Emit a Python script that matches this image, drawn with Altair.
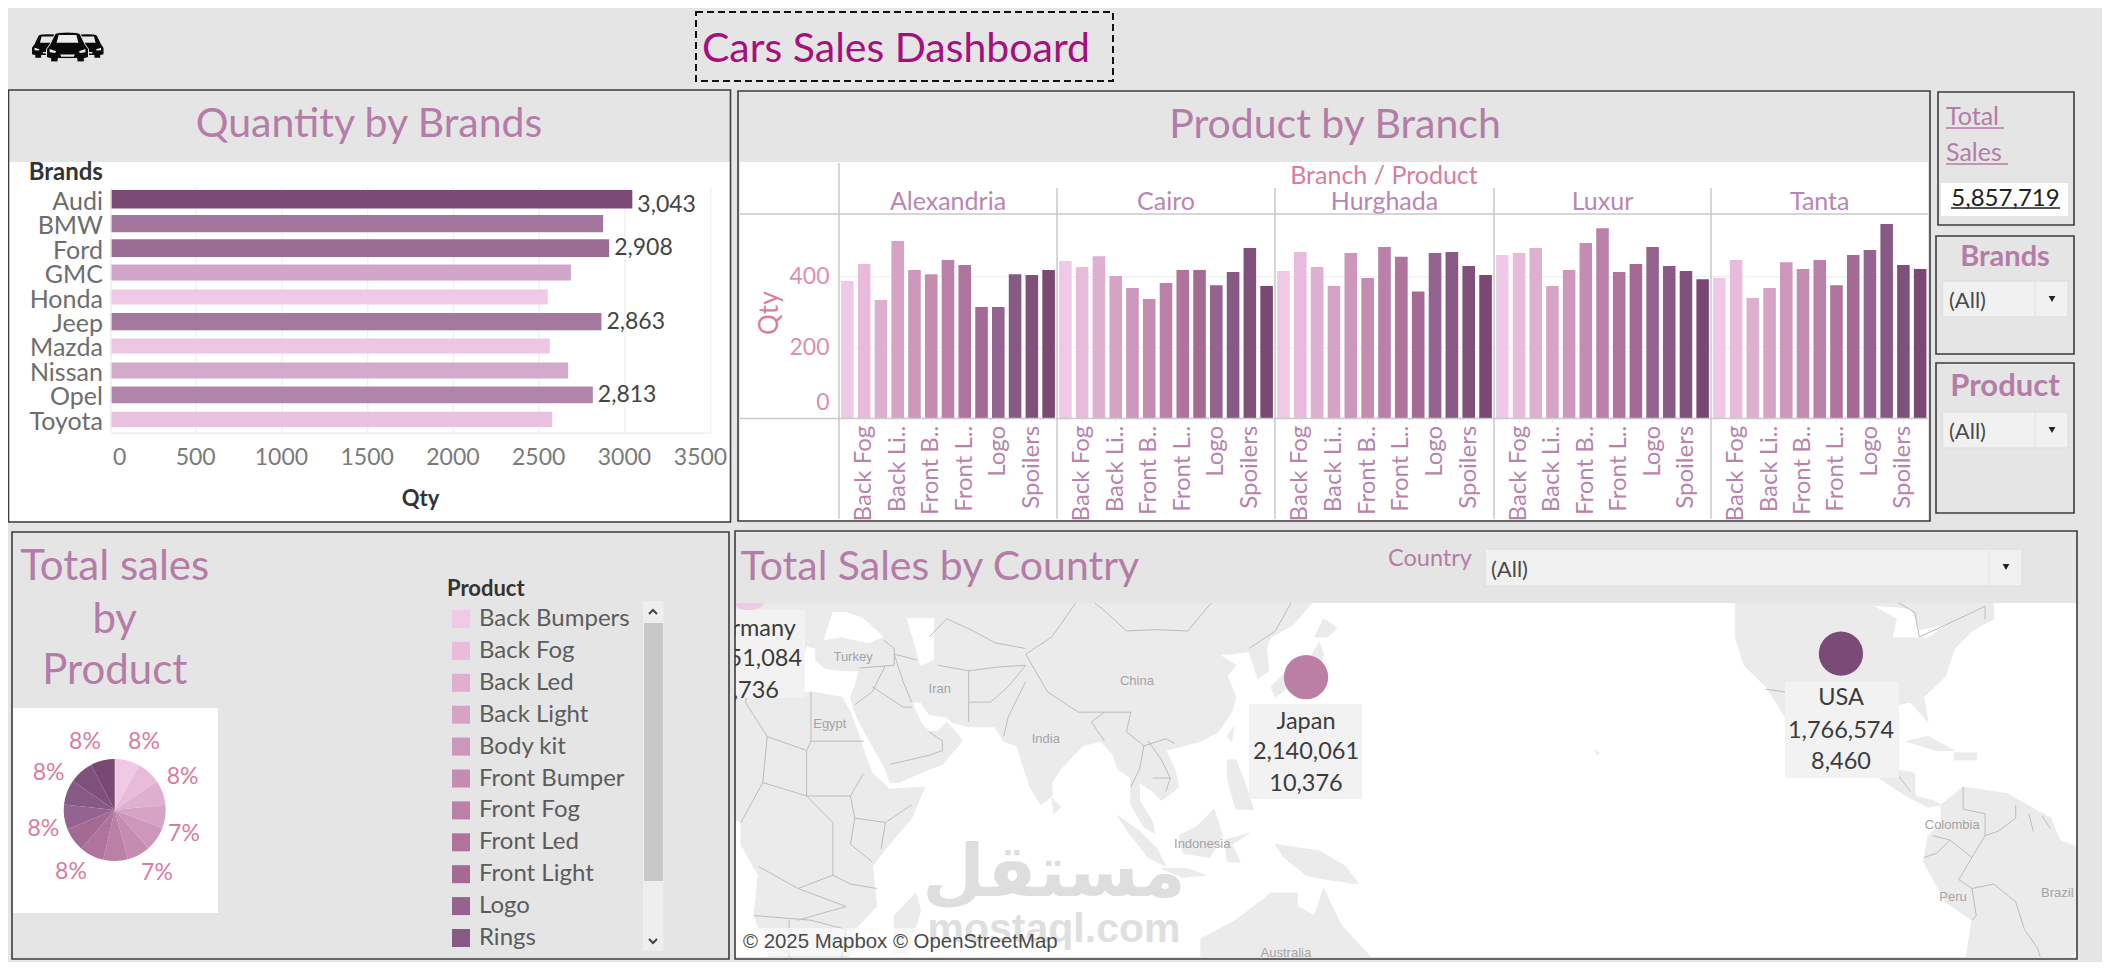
import altair as alt
import pandas as pd

W, H = 2094, 954
FONT = "Lato"
TITLE = "#b57ca8"
ROSE = "#d97c9e"
GREY = "#e5e5e5"

# ---- data -----------------------------------------------------------------
brands = ["Audi", "BMW", "Ford", "GMC", "Honda", "Jeep", "Mazda", "Nissan", "Opel", "Toyota"]
brand_qty = [3043, 2873, 2908, 2685, 2550, 2863, 2562, 2669, 2813, 2576]
brand_labels = ["3,043", "", "2,908", "", "", "2,863", "", "", "2,813", ""]
brand_ticks = [0, 500, 1000, 1500, 2000, 2500, 3000, 3500]

products = ["Back Bumpers", "Back Fog", "Back Led", "Back Light", "Body kit", "Front Bumper",
            "Front Fog", "Front Led", "Front Light", "Logo", "Rings", "Spoilers", "Wheels"]
palette = ["#efc9e6", "#e8bbda", "#dfafcf", "#d6a3c5", "#cc97ba", "#c48cb0", "#ba80a7",
           "#af739c", "#a46a94", "#94638f", "#875a85", "#7f5079", "#7a4872"]
shown_products = ["Back Fog", "Back Light", "Front Bumper", "Front Led", "Logo", "Spoilers"]

branches = ["Alexandria", "Cairo", "Hurghada", "Luxur", "Tanta"]
alexandria = [388, 436, 334, 501, 419, 407, 447, 433, 314, 314, 407, 405, 419]
cairo = [444, 427, 458, 402, 368, 337, 382, 419, 419, 376, 413, 481, 374]
hurghada = [416, 470, 427, 374, 467, 396, 484, 456, 358, 467, 470, 430, 405]
luxur = [461, 467, 481, 374, 419, 495, 537, 413, 436, 484, 430, 416, 393]
tanta = [396, 447, 340, 368, 441, 422, 447, 376, 461, 475, 549, 433, 422]
branch_values = [alexandria, cairo, hurghada, luxur, tanta]
branch_edges = [839, 1057, 1275, 1494, 1711, 1928.5]

pie_values = [7.9, 7.6, 7.8, 7.4, 7.7, 7.3, 7.8, 7.7, 7.5, 7.9, 7.9, 7.6, 7.7]
pie_text = [(144, 742, "8%"), (182.6, 777, "8%"), (184, 834, "7%"), (157, 873, "7%"),
            (71, 872, "8%"), (43.4, 829, "8%"), (48.6, 773, "8%"), (85, 742, "8%")]

countries = ["Germany", "Japan", "USA"]
country_lon = [10.8, 138.0, -99.9]
country_lat = [49.7, 34.8, 39.1]
country_colors = ["#efc9e6", "#bb7fa6", "#7b4a76"]

# rough coastlines (lon, lat)
land_rings = [
    [(5,60),(60,70),(100,72),(140,72),(180,68),(190,65),(178,62),(163,60),(162,56),(157,51),(156,57),(155,59),(142,59),(135,54),(141,53),(140,48),(135,44),(130,42),(129,40),(129.5,36),(127,34.5),(126,37),(125,39.5),(121,39),(118,39),(122,37),(120,35),(122,31),(121,28),(118,24),(114,22),(110,21),(106,20),(108,16),(109,12),(105,9),(103,11),(100,13),(100,9),(103,4),(103.5,1.5),(101,3),(98,8),(98,14),(95,16),(94,19),(91,22),(87,21),(82,16),(80,13),(80,10),(77.5,8),(75,12),(73,18),(72,21),(69,22),(67,25),(61,25),(57,26),(56,27),(52,27.5),(50,30),(48,30),(50,26),(52,24),(54,24),(56,26),(58.5,23.5),(59.5,22),(55,17),(52,16),(45,13),(43,13),(42,16),(39,21),(36,26),(35,28),(34,31),(35,33),(36,36),(32,36),(28,36.5),(26,38),(26,40),(24,40.5),(23,38),(22,36.5),(20,39),(19,42),(14,45),(12.5,44),(16,41),(18,40),(16,38),(15.5,40),(10,44),(6,43),(3,42),(0,39),(-2,37),(-5,36),(-9,37),(-9,43),(-1,44),(-2,48),(3,51),(8,54),(8,57)],
    [(-6,35.5),(10,37),(11,33),(20,31),(25,32),(32,31),(34,28),(36,23),(37,20),(39,15),(43,11.5),(51,12),(48,5),(42,-2),(39,-6),(40,-15),(35,-20),(35,-24),(32,-28),(28,-33),(20,-35),(18,-32),(14,-22),(12,-17),(13,-8),(9,-1),(9,4),(5,6),(-4,5),(-8,4.5),(-13,8),(-17,14),(-16,20),(-13,27),(-10,31)],
    [(49,-12),(50,-16),(47,-25),(44,-25),(44,-17)],
    [(80,9.5),(82,7.5),(80.5,6)],
    [(130,33),(133,35.5),(137,37),(139,38.5),(141,41),(142,39),(141,36),(137,34.5),(135,33.5),(131,31)],
    [(140,42),(142,45),(145,43.5),(143,42)],
    [(120,23),(121.5,25),(121,22)],
    [(95,5.5),(100,2),(104,-2),(106,-6),(102,-4),(98,1)],
    [(105,-6.5),(111,-6.5),(115,-8),(110,-8.5)],
    [(109,1),(113,3),(117,7),(119,1),(116,-4),(110,-3)],
    [(119.5,0),(125,1.5),(121,-1),(123,-5),(120,-5)],
    [(120,18),(122,18),(124,13),(126,7),(122,7),(120,14)],
    [(131,-1),(141,-2.5),(147,-6),(150,-10),(143,-9),(138,-8),(133,-4)],
    [(114,-22),(122,-18),(130,-12),(136,-12),(136,-15),(140,-17),(142,-11),(146,-19),(153,-26),(153,-33),(150,-38),(143,-39),(138,-35),(132,-32),(124,-33),(116,-35),(114,-30)],
    [(204,20),(205,19.5),(204.5,19)],
    [(-168,66),(-156,71),(-125,70),(-95,72),(-80,73),(-62,66),(-60,55),(-55,52),(-65,50),(-65,45),(-70,43),(-74,40),(-76,35),(-81,31),(-80,26),(-82,28),(-84,30),(-90,29),(-97,27),(-97.5,22),(-95,18.5),(-91,19),(-90,21),(-87,21),(-88,16),(-83,15),(-83,10),(-79,9),(-77,8),(-80,7.5),(-85,10),(-92,14.5),(-97,16),(-105,20),(-109,25),(-113,31),(-110,23),(-114,29),(-117,33),(-122,37),(-124,42),(-124,48),(-130,54),(-140,60),(-150,60),(-165,55),(-160,60),(-165,63)],
    [(-85,22),(-80,23),(-74,20),(-78,20)],
    [(-74,19.5),(-69,19.5),(-69,18),(-74,18)],
    [(-77,8),(-72,12),(-62,10.5),(-52,5),(-50,0),(-44,-2.5),(-35,-6),(-39,-15),(-41,-22),(-48,-26),(-54,-34),(-62,-39),(-66,-46),(-69,-52),(-73,-50),(-72,-30),(-70,-18),(-76,-14),(-81,-5),(-80,1),(-77,4)],
]
water_rings = [
    [(28,41.5),(32,42),(38,41),(41.5,42),(37,45),(33,46),(30,46)],
    [(47,45),(53,45),(53,38),(50,37),(49,40)],
    [(-92,47),(-84,46.5),(-82,43),(-79,43.5),(-76,44),(-80,42),(-84,42),(-88,42),(-87,45)],
]
border_lines = [
    [(74,39),(80,42),(87,49),(97,43),(111,43),(120,50),(125,53),(135,48),(131,43),(125,40)],
    [(74,39),(79,32),(86,28),(92,28),(98,28),(97,24),(101,21),(106,22.5),(108,21.5)],
    [(74,34),(70,27),(69,23)], [(92,28),(89,26),(92,22)],
    [(44,39),(46,34),(48,30)], [(61,36),(61,26)], [(44,39),(49,38)], [(54,37),(61,36)],
    [(36,36.5),(44,37),(44,40),(41.5,41.5)],
    [(39,33),(46,29),(48,29)], [(35,29.5),(39,32),(42,37)], [(43,17),(52,19),(55,20),(55,22),(52,24)],
    [(61,30),(66,30),(70,33),(74,37),(61,36)],
    [(52,42),(56,45),(67,41),(74,40)], [(50,50),(60,51),(75,54),(87,49)], [(87,49),(100,52),(116,50)],
    [(101,21),(100,16),(98,12)], [(102,22),(105,18),(107,14),(106,11)], [(103,14),(107,14)],
    [(25,32),(25,22),(37,22)], [(25,22),(24,20),(15,23),(10,30),(11,33)],
    [(24,20),(24,10),(34,10),(37,15)], [(15,23),(14,13),(24,10)],
    [(34,10),(35,5),(42,4),(48,8)], [(35,5),(34,-1),(39,-5)], [(42,4),(41,-2)],
    [(24,10),(30,4),(30,-8),(22,-11),(13,-6)], [(30,-8),(34,-10),(40,-11)], [(22,-18),(33,-15),(22,-11)],
    [(12,-17),(25,-18),(33,-20),(32,-26)], [(20,-18),(20,-28),(17,-29)], [(9,4),(14,13)],
    [(-124,49),(-95,49),(-88,48),(-83,46),(-82,42),(-76,44),(-70,46),(-67,47),(-67,45)],
    [(-117,32.5),(-108,31.5),(-106,31.5),(-101,29.5),(-97,26)],
    [(-92,14.5),(-91,18),(-88,18)], [(-88,16),(-84,11)],
    [(-72,12),(-72,7),(-67,6),(-67,1),(-70,-4),(-75,0),(-79,1)], [(-60,8),(-60,5),(-64,2),(-67,1)],
    [(-57,6),(-56,2)], [(-54,5.5),(-52,2.5)], [(-70,-4),(-73,-9),(-70,-11),(-69,-17),(-70,-18)],
    [(-75,0),(-78,-3),(-81,-4)], [(-70,-11),(-65,-10),(-60,-14),(-58,-20),(-55,-24),(-54,-27)],
]
map_names = [("Turkey",34.6,38.5),("Iran",54.4,32.5),("Egypt",29.3,25.5),("China",99.4,34),("India",78.6,22.5),
             ("Indonesia",114.3,-1),("Australia",133.4,-25),("Colombia",-74.5,3.4),("Peru",-74.3,-13),("Brazil",-50.5,-12)]

# ---- page-space scales (values are page pixels) ---------------------------
SX = alt.Scale(domain=[8, 8 + W], range=[0, W], nice=False, zero=False)
SY = alt.Scale(domain=[8, 8 + H], range=[0, H], nice=False, zero=False)
PROJ = dict(type="mercator", scale=251, rotate=[-150, 0, 0], translate=[1350.6, 832])


def rects(boxes, **mark):
    df = pd.DataFrame(boxes, columns=["x0", "y0", "x1", "y1"])
    return alt.Chart(df).mark_rect(**mark).encode(
        x=alt.X("x0:Q", scale=SX, axis=None), x2="x1:Q",
        y=alt.Y("y0:Q", scale=SY, axis=None), y2="y1:Q")


def rules(lines, color="#c9c9c9", width=1.5, **mark):
    df = pd.DataFrame(lines, columns=["x0", "y0", "x1", "y1"])
    return alt.Chart(df).mark_rule(color=color, strokeWidth=width, **mark).encode(
        x=alt.X("x0:Q", scale=SX, axis=None), x2="x1:Q",
        y=alt.Y("y0:Q", scale=SY, axis=None), y2="y1:Q")


def texts(items, size=23, color="#555555", align="center", weight="normal", font=FONT, **mark):
    df = pd.DataFrame(items, columns=["x", "y", "t"])
    return alt.Chart(df).mark_text(fontSize=size, color=color, align=align, fontWeight=weight,
                                   font=font, baseline="middle", **mark).encode(
        x=alt.X("x:Q", scale=SX, axis=None), y=alt.Y("y:Q", scale=SY, axis=None), text="t:N")


def points(items, **mark):
    df = pd.DataFrame(items, columns=["x", "y"])
    return alt.Chart(df).mark_point(**mark).encode(
        x=alt.X("x:Q", scale=SX, axis=None), y=alt.Y("y:Q", scale=SY, axis=None))


def geo(rings, line=False):
    feats = []
    for r in rings:
        r = list(r)
        if line:
            feats.append({"type": "Feature", "properties": {},
                          "geometry": {"type": "LineString", "coordinates": [list(p) for p in r]}})
            continue
        area = sum(a[0] * b[1] - b[0] * a[1] for a, b in zip(r, r[1:] + r[:1]))
        if area > 0:
            r = r[::-1]
        r = r + [r[0]]
        feats.append({"type": "Feature", "properties": {},
                      "geometry": {"type": "Polygon", "coordinates": [[list(p) for p in r]]}})
    return alt.Data(values=feats)


layers = []

# ---- map (everything outside its window is painted over afterwards) -------
layers.append(rects([(735, 603, 2077, 959)], color="#ffffff"))
layers.append(alt.Chart(geo(land_rings)).mark_geoshape(fill="#ebebeb", stroke="#ebebeb").project(**PROJ))
layers.append(alt.Chart(geo(water_rings)).mark_geoshape(fill="#ffffff", stroke="#ffffff").project(**PROJ))
layers.append(alt.Chart(geo(border_lines, True)).mark_geoshape(filled=False, stroke="#bcbcbc", strokeWidth=1).project(**PROJ))
names_df = pd.DataFrame(map_names, columns=["n", "lon", "lat"])
layers.append(alt.Chart(names_df).mark_text(fontSize=13, color="#a4a4a4", font="Liberation Sans").encode(
    longitude="lon:Q", latitude="lat:Q", text="n:N").project(**PROJ))
country_df = pd.DataFrame({"c": countries, "lon": country_lon, "lat": country_lat})
layers.append(alt.Chart(country_df).mark_circle(size=1963, opacity=1).encode(
    longitude="lon:Q", latitude="lat:Q",
    color=alt.Color("c:N", scale=alt.Scale(domain=countries, range=country_colors), legend=None)).project(**PROJ))
layers.append(rects([(692, 610, 805, 698), (1249, 704, 1362, 799), (1785, 682, 1899, 778)], color="#f2f2f2"))
layers.append(texts([(749, 629, "Germany"), (749, 659, "1,951,084"), (749, 691, "8,736"),
                     (1306, 722, "Japan"), (1306, 752, "2,140,061"), (1306, 784, "10,376"),
                     (1841, 698, "USA"), (1841, 731, "1,766,574"), (1841, 762, "8,460")],
                    size=23.5, color="#3c3c3c"))
# copyright strip, watermark, copyright text
layers.append(rects([(741, 928, 1060, 956)], color="#ffffff", opacity=0.6))
layers.append(texts([(1054, 874, "مستقل")], size=72, color="#d6d6d6", weight="bold", font="DejaVu Sans", opacity=0.8))
layers.append(texts([(1054, 930, "mostaql.com")], size=41, color="#dadada", weight="bold", font="Liberation Sans", opacity=0.85))
layers.append(texts([(743, 941.5, "© 2025 Mapbox © OpenStreetMap")], size=20.4, color="#4a4a4a", align="left", font="Liberation Sans"))

# ---- grey surround ---------------------------------------------------------
layers.append(rects([(8, 8, 735, 962), (8, 8, 2102, 603), (2077, 8, 2102, 962), (8, 957, 2102, 962)], color=GREY))

# ---- header ----------------------------------------------------------------
CAR = ("M-1,0.1 L-0.85,-0.1 L-0.6,-0.62 Q-0.5,-0.71 0,-0.71 Q0.5,-0.71 0.6,-0.62 L0.85,-0.1 L1,0.1 L1,0.5 "
       "L0.8,0.55 L0.8,0.71 L0.45,0.71 L0.45,0.55 L-0.45,0.55 L-0.45,0.71 L-0.8,0.71 L-0.8,0.55 L-1,0.5 Z")
CAR_WHITE = ("M-0.52,-0.2 L-0.42,-0.57 L0.42,-0.57 L0.52,-0.2 Z "
             "M-0.85,0.1 L-0.55,0.2 L-0.58,0.28 L-0.85,0.25 Z M0.85,0.1 L0.55,0.2 L0.58,0.28 L0.85,0.25 Z "
             "M-0.35,0.36 L0.35,0.36 L0.3,0.46 L-0.3,0.46 Z")
side_cars = [(48.5, 46), (87, 46)]
middle_car = [(67.5, 47)]
layers.append(points(side_cars, shape=CAR, size=1089, filled=True, color="#0a0a0a", opacity=1))
layers.append(points(side_cars, shape=CAR_WHITE, size=1089, filled=True, color="#e9e9e9", opacity=1))
layers.append(points(middle_car, shape=CAR, size=1764, filled=True, fill="#0a0a0a", stroke="#e5e5e5", strokeWidth=1, opacity=1))
layers.append(points(middle_car, shape=CAR_WHITE, size=1764, filled=True, color="#ececec", opacity=1))
layers.append(rects([(696, 12, 1113, 81)], fillOpacity=0, stroke="#111111", strokeWidth=2, strokeDash=[7, 4]))
layers.append(texts([(896, 50, "Cars Sales Dashboard")], size=41, color="#a50f7e"))

# ---- panel backgrounds -----------------------------------------------------
layers.append(rects([(8, 162, 730, 521), (740, 162, 1928, 520), (13, 708, 218, 913), (1941, 183, 2068, 216)], color="#ffffff"))

# ---- quantity by brands ----------------------------------------------------
bx = alt.Scale(domain=[0, 3500], range=[102.4, 702.7], nice=False, zero=True)
by = alt.Scale(domain=brands, range=[179, 423.6], paddingInner=0.2, paddingOuter=0.1)
layers.append(texts([(369, 125, "Quantity by Brands")], size=41, color=TITLE))
grid_df = pd.DataFrame({"v": brand_ticks[1:], "a": [187] * 7, "b": [433] * 7})
layers.append(alt.Chart(grid_df).mark_rule(color="#f1f1f1", strokeWidth=1.5).encode(
    x=alt.X("v:Q", scale=bx, axis=None),
    y=alt.Y("a:Q", scale=SY, axis=None), y2="b:Q"))
brand_df = pd.DataFrame({"brand": brands, "qty": brand_qty, "lab": brand_labels})
layers.append(alt.Chart(brand_df).mark_bar().encode(
    x=alt.X("qty:Q", scale=bx, axis=alt.Axis(
        orient="bottom", offset=424.7 - H, values=brand_ticks, grid=False, ticks=False,
        domainColor="#eeeeee", domainWidth=1.5, labelFont=FONT, labelFontSize=23, labelColor="#7a7a7a", labelPadding=14,
        labelOffset={"expr": "datum.value == 0 ? 2 : datum.value == 3500 ? 16 : -1"},
        labelOverlap=False, format="d", zindex=1,
        title="Qty", titleX=412, titleY=66, titleFont=FONT, titleFontSize=22, titleFontWeight="bold",
        titleColor="#333333", titleBaseline="middle")),
    y=alt.Y("brand:N", scale=by, sort=None, axis=alt.Axis(
        orient="left", offset=-102.4, grid=False, ticks=False, domainColor="#eeeeee", domainWidth=1.5,
        labelFont=FONT, labelFontSize=25, labelColor="#6d6d6d", labelPadding=8, labelOverlap=False, zindex=1,
        labelOffset=2.5,
        title="Brands", titleAngle=0, titleX=-8, titleY=164, titleAlign="right", titleBaseline="middle",
        titleFont=FONT, titleFontSize=24, titleFontWeight="bold", titleColor="#333333")),
    color=alt.Color("qty:Q", scale=alt.Scale(domain=[2550, 3043], range=["#efc9e6", "#7b4a76"], interpolate="rgb"), legend=None),
    size=alt.Size("qty:Q", scale=alt.Scale(domain=[2550, 3043], range=[15, 18.6], zero=False), legend=None)))
for sub, dy in ((brand_df[brand_df.brand == "Audi"], 6), (brand_df[(brand_df.lab != "") & (brand_df.brand != "Audi")], 0)):
    layers.append(alt.Chart(sub).mark_text(align="left", dx=5, dy=dy, fontSize=23, font=FONT, color="#444444").encode(
        x=alt.X("qty:Q", scale=bx, axis=None), y=alt.Y("brand:N", scale=by, axis=None), text="lab:N"))

# ---- product by branch -----------------------------------------------------
qy = alt.Scale(domain=[0, 577], range=[410.3, 206], nice=False, zero=True)
layers.append(texts([(1335, 126, "Product by Branch")], size=41, color=TITLE))
layers.append(texts([(1384, 176, "Branch / Product")], size=25, color=ROSE))
edge_mid = [(a + b) / 2 for a, b in zip(branch_edges, branch_edges[1:])]
layers.append(texts([(m, 202, b) for m, b in zip(edge_mid, branches)], size=25, color="#b886b4"))
layers.append(alt.Chart(pd.DataFrame({"v": [200, 400], "a": [840, 840], "b": [1928, 1928]})).mark_rule(color="#f1f1f1", strokeWidth=1.5).encode(
    y=alt.Y("v:Q", scale=qy, axis=None), x=alt.X("a:Q", scale=SX, axis=None), x2="b:Q"))
short = "{'Back Light':'Back Li..','Front Bumper':'Front B..','Front Led':'Front L..'}"
for i, (name, vals) in enumerate(zip(branches, branch_values)):
    df = pd.DataFrame({"p": products, "qty": vals})
    xs = alt.Scale(domain=products, range=[branch_edges[i] - 8, branch_edges[i + 1] - 8], paddingInner=0.25, paddingOuter=0.125)
    y_axis = alt.Axis(orient="left", offset=-831, values=[0, 200, 400], grid=False, ticks=False, domain=False,
                      labelFont=FONT, labelFontSize=23, labelColor="#dd8fae", labelPadding=10, labelOverlap=False, zindex=1,
                      labelOffset={"expr": "datum.value == 0 ? -16 : 0"},
                      title="Qty", titleX=-70, titleY=304.7, titleFont=FONT, titleFontSize=26, titleFontWeight="normal",
                      titleColor=ROSE, titleBaseline="middle") if i == 0 else None
    layers.append(alt.Chart(df).mark_bar().encode(
        x=alt.X("p:N", scale=xs, sort=None, axis=alt.Axis(
            orient="bottom", offset=410.3 - H, values=shown_products, grid=False, domain=False,
            tickColor="#e8e8e8", tickSize=4, labelFont=FONT, labelFontSize=24, labelColor="#b883ab", labelAngle=270,
            labelAlign="right", labelBaseline="middle", labelPadding=3, labelOverlap=False, zindex=1, title=None,
            labelExpr="(" + short + ")[datum.value] || datum.value")),
        y=alt.Y("qty:Q", scale=qy, axis=y_axis),
        color=alt.Color("p:N", scale=alt.Scale(domain=products, range=palette), legend=None)))
layers.append(rules([(740, 214, 1928, 214), (740, 418.5, 1928, 418.5), (839, 163, 839, 519)] +
                    [(e, 188, e, 519) for e in branch_edges[1:-1]]))

# ---- pie -------------------------------------------------------------------
layers.append(texts([(114.7, 567, "Total sales"), (114.7, 620, "by"), (114.7, 671, "Product")], size=42, color=TITLE))
pie_df = pd.DataFrame({"Product": products, "v": pie_values, "i": list(range(13))})
layers.append(alt.Chart(pie_df).mark_arc(outerRadius=51).encode(
    x=alt.value(114.7 - 8), y=alt.value(810 - 8),
    theta=alt.Theta("v:Q", stack=True),
    order=alt.Order("i:Q"),
    color=alt.Color("Product:N", scale=alt.Scale(domain=products, range=palette), legend=alt.Legend(
        orient="none", legendX=439, legendY=571, title="Product", values=products[:11], symbolType="square",
        symbolSize=324, symbolStrokeWidth=0, symbolOffset=2, labelOffset=6, rowPadding=7.9, labelFont=FONT,
        labelFontSize=24, labelColor="#5c5c5c", labelLimit=240, titleFont=FONT, titleFontSize=22,
        titleFontWeight="bold", titleColor="#333333", titlePadding=6, zindex=1))))
layers.append(texts(pie_text, size=23, color=ROSE))
# legend scroll bar
layers.append(rects([(643, 601, 663.5, 951)], color="#eeeeee"))
layers.append(rects([(644, 623, 663, 881)], color="#c8c8c8"))
layers.append(points([(653, 612)], shape="M-1,0.5 L0,-0.5 L1,0.5", size=64, filled=False, stroke="#444444", strokeWidth=2, opacity=1))
layers.append(points([(653, 941)], shape="M-1,-0.5 L0,0.5 L1,-0.5", size=64, filled=False, stroke="#444444", strokeWidth=2, opacity=1))

# ---- country header --------------------------------------------------------
layers.append(texts([(740.5, 568, "Total Sales by Country")], size=41, color=TITLE, align="left"))
layers.append(texts([(1388, 559, "Country")], size=23.5, color=TITLE, align="left"))
layers.append(rects([(1485, 549, 2022, 586), (1942.5, 281, 2068, 317), (1942.5, 412, 2068, 448)],
                    color="#f1f1f1", stroke="#dddddd", strokeWidth=1))
layers.append(rules([(1989, 550, 1989, 585), (2035, 282, 2035, 316), (2035, 413, 2035, 447)], color="#e2e2e2", width=1))
layers.append(texts([(1491, 570, "(All)"), (1949, 301, "(All)"), (1949, 432, "(All)")], size=22, color="#4a4a4a", align="left"))
layers.append(points([(2006, 567), (2052, 299), (2052, 430)], shape="triangle-down", size=45, filled=True, color="#222222", opacity=1))

# ---- side cards ------------------------------------------------------------
layers.append(texts([(1946, 117, "Total"), (1946, 153, "Sales")], size=25, color=TITLE, align="left"))
layers.append(rules([(1946, 128, 2004, 128), (1946, 164, 2008, 164)], color=TITLE, width=1.5))
layers.append(texts([(2005.5, 199, "5,857,719")], size=24, color="#222222"))
layers.append(rules([(1951, 208, 2060, 208)], color="#222222", width=1.5))
layers.append(texts([(2005, 257, "Brands")], size=29, color=TITLE, weight="bold"))
layers.append(texts([(2005, 387, "Product")], size=31, color=TITLE, weight="bold"))

# ---- frames ----------------------------------------------------------------
layers.append(rects([(8.5, 90, 730.5, 522), (738, 91, 1930, 521), (12, 532, 729, 959), (735, 531, 2077, 959),
                     (1938, 92, 2074, 225), (1936, 236, 2074, 354), (1936, 363, 2074, 513)],
                    fillOpacity=0, stroke="#3d3d3d", strokeWidth=1.6))

chart = (
    alt.layer(*layers)
    .resolve_scale(x="independent", y="independent", color="independent", size="independent")
    .properties(width=W, height=H, padding=0, background=GREY,
                autosize=alt.AutoSizeParams(type="none", contains="padding"))
    .configure_view(stroke=None)
)
chart.save("out.html", embed_options={"renderer": "svg", "actions": False})
